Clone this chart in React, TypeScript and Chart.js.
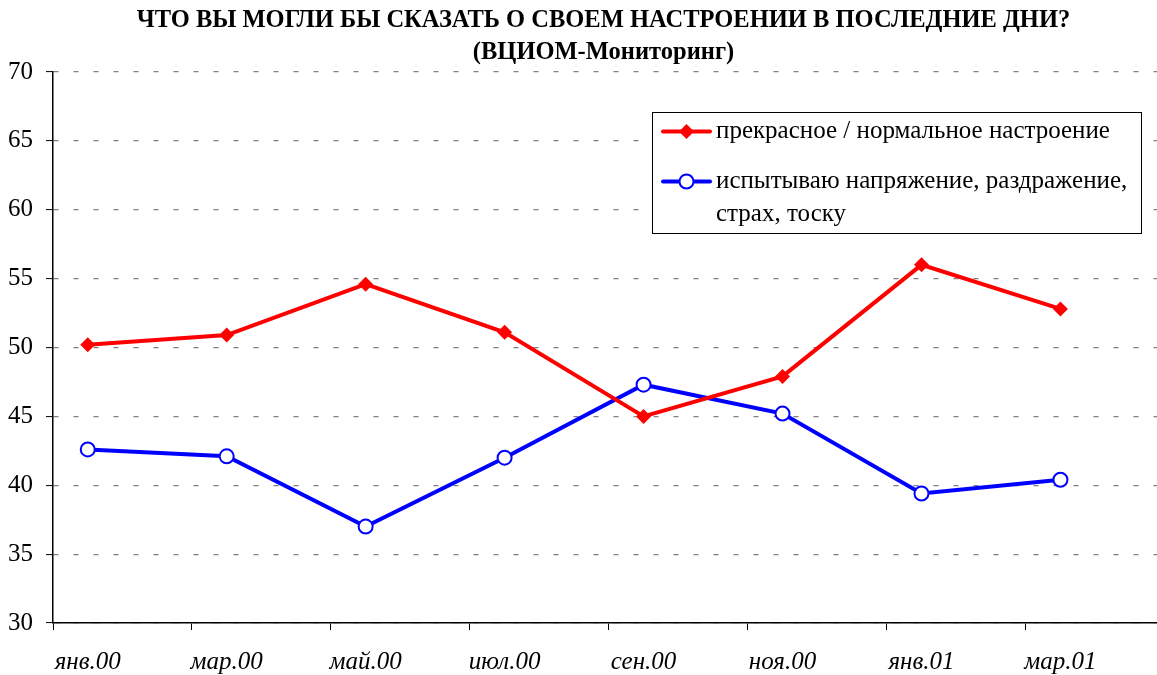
import React, { useEffect, useRef } from 'react';
import { Chart, registerables } from 'chart.js';

Chart.register(...registerables);

const TITLE_LINES = [
  'ЧТО ВЫ МОГЛИ БЫ СКАЗАТЬ О СВОЕМ НАСТРОЕНИИ В ПОСЛЕДНИЕ ДНИ?',
  '(ВЦИОМ-Мониторинг)',
];
const CATEGORIES = ['янв.00', 'мар.00', 'май.00', 'июл.00', 'сен.00', 'ноя.00', 'янв.01', 'мар.01'];
const MONTH_INDEX = [0, 2, 4, 6, 8, 10, 12, 14];
const GOOD_MOOD = [50.2, 50.9, 54.6, 51.1, 45.0, 47.9, 56.0, 52.8];
const TENSION = [42.6, 42.1, 37.0, 42.0, 47.3, 45.2, 39.4, 40.4];
const Y_TICKS = [30, 35, 40, 45, 50, 55, 60, 65, 70];
const SERIES_GOOD = ['прекрасное / нормальное настроение'];
const SERIES_TENSION = ['испытываю напряжение, раздражение,', 'страх, тоску'];
const X_MIN = -0.5;
const X_MAX = 15.98;
const X_TICK_MARKS = [-0.5, 1.5, 3.5, 5.5, 7.5, 9.5, 11.5, 13.5, 15.5];

const RED = '#FF0000';
const BLUE = '#0000FF';
const FONT = '"Liberation Serif", "Times New Roman", serif';
const CANVAS_W = 1207;
const CANVAS_H = 675;

const legendPlugin = {
  id: 'boxLegend',
  afterDraw(chart: any) {
    const ctx = chart.ctx;
    const left = 652;
    const top = 112;
    const w = 489;
    const h = 121;
    ctx.save();
    ctx.fillStyle = '#ffffff';
    ctx.fillRect(left, top, w, h);
    ctx.strokeStyle = '#000000';
    ctx.lineWidth = 1;
    ctx.strokeRect(left + 0.5, top + 0.5, w, h);

    const entries = [
      { lines: SERIES_GOOD, color: RED, y: 131.5, marker: 'diamond' },
      { lines: SERIES_TENSION, color: BLUE, y: 181.5, marker: 'circle' },
    ];
    ctx.font = `25px ${FONT}`;
    ctx.textBaseline = 'middle';
    ctx.textAlign = 'left';
    for (const e of entries) {
      ctx.strokeStyle = e.color;
      ctx.lineWidth = 4;
      ctx.lineCap = 'round';
      ctx.beginPath();
      ctx.moveTo(663, e.y);
      ctx.lineTo(710, e.y);
      ctx.stroke();
      const cx = 686.5;
      if (e.marker === 'diamond') {
        ctx.fillStyle = e.color;
        ctx.beginPath();
        ctx.moveTo(cx, e.y - 7.5);
        ctx.lineTo(cx + 7.5, e.y);
        ctx.lineTo(cx, e.y + 7.5);
        ctx.lineTo(cx - 7.5, e.y);
        ctx.closePath();
        ctx.fill();
      } else {
        ctx.fillStyle = '#ffffff';
        ctx.lineWidth = 2;
        ctx.beginPath();
        ctx.arc(cx, e.y, 7, 0, Math.PI * 2);
        ctx.fill();
        ctx.stroke();
      }
      ctx.fillStyle = '#000000';
      e.lines.forEach((t, i) => {
        ctx.fillText(t, 716, e.y + i * 33);
      });
    }
    ctx.restore();
  },
};

export default function App() {
  const ref = useRef<HTMLCanvasElement | null>(null);
  useEffect(() => {
    document.body.style.margin = '0';
    document.body.style.overflow = 'hidden';
    const canvas = ref.current;
    if (!canvas) return;
    const chart = new Chart(canvas, {
      type: 'line',
      data: {
        datasets: [
          {
            label: SERIES_GOOD.join(' '),
            data: MONTH_INDEX.map((m, i) => ({ x: m, y: GOOD_MOOD[i] })),
            borderColor: RED,
            backgroundColor: RED,
            borderWidth: 4,
            pointStyle: 'rectRot',
            pointRadius: 7.5,
            pointBorderWidth: 0,
            pointBackgroundColor: RED,
            tension: 0,
            xAxisID: 'x',
          },
          {
            label: SERIES_TENSION.join(' '),
            data: MONTH_INDEX.map((m, i) => ({ x: m, y: TENSION[i] })),
            borderColor: BLUE,
            backgroundColor: '#ffffff',
            borderWidth: 4,
            pointStyle: 'circle',
            pointRadius: 7,
            pointBorderWidth: 2,
            pointBorderColor: BLUE,
            pointBackgroundColor: '#ffffff',
            tension: 0,
            xAxisID: 'x',
          },
        ],
      },
      options: {
        responsive: false,
        animation: false,
        layout: { padding: { left: 0, right: 0, top: 0, bottom: 0 } },
        plugins: {
          legend: { display: false },
          tooltip: { enabled: false },
          title: {
            display: true,
            text: TITLE_LINES,
            color: '#000000',
            font: { family: FONT, size: 24.5, weight: 'bold', lineHeight: 1.3 },
            padding: { top: 5, bottom: 3.3 },
          },
        },
        scales: {
          xMarks: {
            type: 'linear',
            position: 'bottom',
            min: X_MIN,
            max: X_MAX,
            weight: 1,
            afterBuildTicks: (s: any) => {
              s.ticks = X_TICK_MARKS.filter((v) => v >= X_MIN && v <= X_MAX).map((v) => ({ value: v }));
            },
            ticks: { display: false },
            grid: { display: true, drawOnChartArea: false, drawTicks: true, tickLength: 7, tickColor: '#000000', tickWidth: 1 },
            border: { display: true, color: '#000000', width: 1.5 },
            afterFit: (s: any) => { s.height = 7; s.paddingLeft = 0; s.paddingRight = 0; },
          },
          x: {
            type: 'linear',
            position: 'bottom',
            min: X_MIN,
            max: X_MAX,
            weight: 2,
            afterBuildTicks: (s: any) => {
              s.ticks = MONTH_INDEX.map((v) => ({ value: v }));
            },
            ticks: {
              autoSkip: false,
              maxRotation: 0,
              color: '#000000',
              padding: 17,
              font: { family: FONT, size: 25, style: 'italic' },
              callback: (v: any) => {
                const i = MONTH_INDEX.indexOf(Number(v));
                return i >= 0 ? CATEGORIES[i] : '';
              },
            },
            grid: { display: false, drawTicks: false },
            border: { display: false },
            afterFit: (s: any) => { s.height = 45; s.paddingLeft = 0; s.paddingRight = 0; },
          },
          y: {
            type: 'linear',
            min: 30,
            max: 70,
            afterBuildTicks: (s: any) => {
              s.ticks = Y_TICKS.map((v) => ({ value: v }));
            },
            ticks: {
              color: '#000000',
              padding: 13,
              font: { family: FONT, size: 25 },
            },
            grid: {
              color: '#808080',
              lineWidth: 1.2,
              tickLength: 7,
              tickColor: '#000000',
              tickWidth: 1,
            },
            border: { display: true, color: '#000000', width: 1.5, dash: [5, 15] },
            afterFit: (s: any) => { s.width = 53; },
          },
        },
      },
      plugins: [legendPlugin],
    });
    return () => chart.destroy();
  }, []);
  return (
    <div style={{ width: 1157, height: 675, overflow: 'hidden' }}>
      <canvas ref={ref} width={CANVAS_W} height={CANVAS_H} style={{ display: 'block' }} />
    </div>
  );
}
